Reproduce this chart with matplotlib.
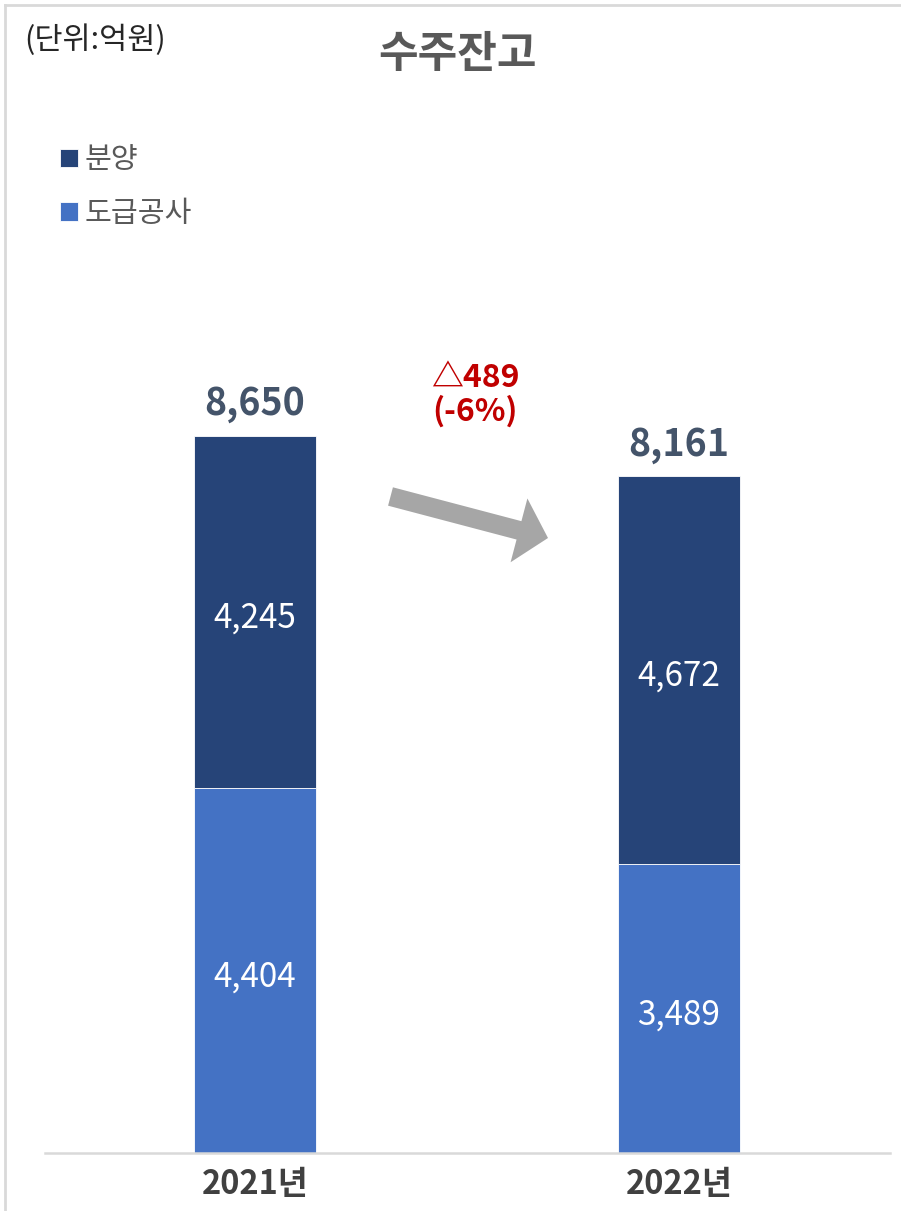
import numpy as np
import matplotlib.pyplot as plt
import matplotlib.patches as mpatches
import matplotlib.transforms as mtransforms

plt.rcParams['font.family'] = ['Noto Sans CJK KR', 'DejaVu Sans']

# data
years = ['2021년', '2022년']
dogeup = [4404, 3489]      # 도급공사
bunyang = [4245, 4672]     # 분양
totals = [8650, 8161]
change_label = '△489\n(-6%)'

c_dark = '#264478'
c_light = '#4472C4'

W, H = 901, 1211
fig = plt.figure(figsize=(W / 100, H / 100), dpi=100)

# pixel transform (origin top-left)
px = mtransforms.Affine2D().scale(1, -1).translate(0, H) + mtransforms.Affine2D().scale(1 / 100) + fig.dpi_scale_trans

ax = fig.add_axes([45 / W, (H - 1153) / H, 845 / W, 1053 / H])
x = np.arange(len(years))
b1 = ax.bar(x, dogeup, width=0.288, color=c_light, edgecolor='white', linewidth=0.6, label='도급공사')
b2 = ax.bar(x, bunyang, width=0.288, bottom=dogeup, color=c_dark, edgecolor='white', linewidth=0.6, label='분양')

ax.set_xlim(-0.495, 1.498)
ax.set_ylim(0, 12700)
for s in ['top', 'right', 'left']:
    ax.spines[s].set_visible(False)
ax.spines['bottom'].set_color('#D9D9D9')
ax.spines['bottom'].set_linewidth(1.8)
ax.set_yticks([])
ax.set_xticks(x)
ax.set_xticklabels(years, fontsize=23.5, fontweight='bold', color='#404040')
ax.tick_params(axis='x', length=0, pad=11)

for i in x:
    ax.annotate(f'{dogeup[i]:,}', (i, dogeup[i] / 2), xytext=(0, -4.5), textcoords='offset points',
                ha='center', va='center', color='white', fontsize=24)
    ax.annotate(f'{bunyang[i]:,}', (i, dogeup[i] + bunyang[i] / 2), xytext=(0, -4.5), textcoords='offset points',
                ha='center', va='center', color='white', fontsize=24)
    ax.annotate(f'{totals[i]:,}', (i, totals[i]), xytext=(0, 9), textcoords='offset points',
                ha='center', va='bottom', color='#44546A', fontsize=27, fontweight='bold')

# title and unit
fig.text(458 / W, 1 - 54 / H, '수주잔고', ha='center', va='center', fontsize=31,
         fontweight='bold', color='#595959')
fig.text(24 / W, 1 - 40 / H, '(단위:억원)', ha='left', va='center', fontsize=22, color='#262626')

# legend
fig.legend([b2, b1], ['분양', '도급공사'], loc='upper left', bbox_to_anchor=(34 / W, 1 - 119 / H),
           frameon=False, fontsize=21, handlelength=0.6, handleheight=0.6,
           handletextpad=0.25, labelspacing=0.8, labelcolor='#595959')

# change arrow and label
arrow = mpatches.FancyArrow(390.5, 496.5, 157.5, 41.5, width=19, head_width=66, head_length=30,
                            length_includes_head=True, color='#A6A6A6', linewidth=0, transform=px)
fig.add_artist(arrow)
fig.text(475 / W, 1 - 395 / H, change_label, ha='center', va='center', fontsize=23,
         fontweight='bold', color='#C00000', linespacing=1.05)

# frame lines (top and left)
fig.add_artist(plt.Line2D([4.5, W], [5, 5], color='#D9D9D9', linewidth=2, transform=px))
fig.add_artist(plt.Line2D([4.5, 4.5], [5, H], color='#D9D9D9', linewidth=2, transform=px))

fig.savefig('out.png', dpi=100)
